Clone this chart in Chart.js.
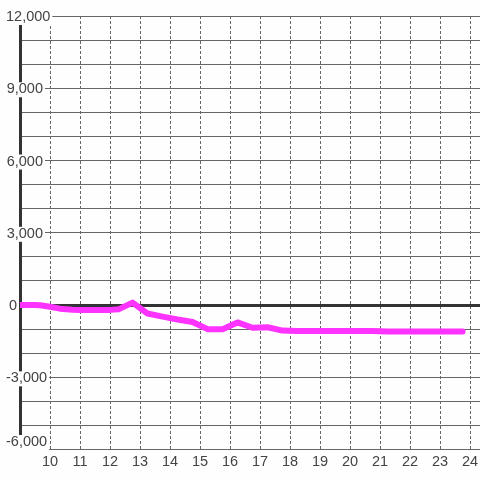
<!DOCTYPE html>
<html>
<head>
<meta charset="utf-8">
<script src="https://cdn.jsdelivr.net/npm/chart.js@4/dist/chart.umd.min.js"></script>
<style>
    html, body { margin: 0; padding: 0; background: #fdfefd; }
    #wrap { width: 480px; height: 480px; position: relative; }
</style>
</head>
<body>
<div id="wrap"><canvas id="lineChart"></canvas></div>
<script>
// ---------------------------------------------
// DATA
// ---------------------------------------------
const hours = [9, 9.5, 9.67, 10, 10.33, 10.75, 11, 11.5, 12, 12.3, 12.75, 13.25, 13.75, 14.25, 14.75,
    15.25, 15.75, 16.25, 16.75, 17.25, 17.75, 18.25, 19, 20, 20.75, 21.25, 22, 23, 23.75];
const values = [0, 0, -10, -70, -150, -190, -200, -200, -200, -170, 100, -350, -480, -600, -700,
    -1000, -1000, -720, -940, -920, -1060, -1080, -1080, -1080, -1080, -1100, -1100, -1100, -1100];

const xTicks = [10, 11, 12, 13, 14, 15, 16, 17, 18, 19, 20, 21, 22, 23, 24];
const yLabels = [12000, 9000, 6000, 3000, 0, -3000, -6000];

const BG = "#fdfefd";
const GRID = "#666666";
const DARK = "#333333";
const TEXT = "#444444";
const PINK = "#ff33ff";

Chart.defaults.font.family = "'Liberation Sans', Arial, sans-serif";

// y labels sit over the axis with a background box
const yLabelPlugin = {
    id: "yLabels",
    beforeDatasetsDraw(chart) {
        const ctx = chart.ctx;
        const yScale = chart.scales.y;
        ctx.save();
        ctx.font = "14.5px 'Liberation Sans', Arial, sans-serif";
        ctx.textBaseline = "middle";
        yLabels.forEach(v => {
            // bottom label is nudged up to stay clear of the x labels
            const py = Math.min(yScale.getPixelForValue(v), 441);
            const txt = v.toLocaleString("en-US");
            const w = ctx.measureText(txt).width;
            let right = v === 0 ? 17 : 43;
            let left = right - w;
            if (left < 4) { left = 6; right = left + w; }
            ctx.fillStyle = BG;
            ctx.fillRect(left - 2, py - 6, w + 4, 15);
            ctx.fillStyle = TEXT;
            ctx.fillText(txt, left, py + 1);
        });
        ctx.restore();
    }
};

function initChart() {
    const canvas = document.getElementById("lineChart");
    new Chart(canvas.getContext("2d"), {
        type: "line",
        data: {
            datasets: [{
                data: hours.map((h, i) => ({ x: h, y: values[i] })),
                borderColor: PINK,
                borderWidth: 6,
                borderCapStyle: "round",
                borderJoinStyle: "round",
                pointRadius: 0,
                tension: 0,
                fill: false
            }]
        },
        options: {
            responsive: true,
            maintainAspectRatio: false,
            animation: false,
            layout: { padding: { left: 20, top: 16, right: 0, bottom: 5 } },
            plugins: {
                legend: { display: false },
                tooltip: { enabled: false }
            },
            scales: {
                x: {
                    type: "linear",
                    min: 9,
                    max: 24.33,
                    afterBuildTicks: (axis) => {
                        axis.ticks = xTicks.map(v => ({ value: v }));
                    },
                    afterFit: (axis) => {
                        // no extra room for the last label, grid runs to the edge
                        axis.paddingLeft = 0;
                        axis.paddingRight = 0;
                    },
                    grid: { color: GRID, lineWidth: 1, drawTicks: false },
                    border: { display: false, dash: [3, 2] },
                    ticks: {
                        color: TEXT,
                        font: { size: 14.5 },
                        padding: 4,
                        maxRotation: 0,
                        autoSkip: false
                    }
                },
                y: {
                    min: -6000,
                    max: 12000,
                    grid: {
                        drawTicks: false,
                        color: (c) => (c.tick && c.tick.value === 0 ? DARK : GRID),
                        lineWidth: (c) => (c.tick && c.tick.value === 0 ? 3 : 1)
                    },
                    border: { display: true, color: DARK, width: 3 },
                    ticks: { display: false, stepSize: 1000 }
                }
            }
        },
        plugins: [yLabelPlugin]
    });
}

document.addEventListener("DOMContentLoaded", initChart);
</script>
</body>
</html>
